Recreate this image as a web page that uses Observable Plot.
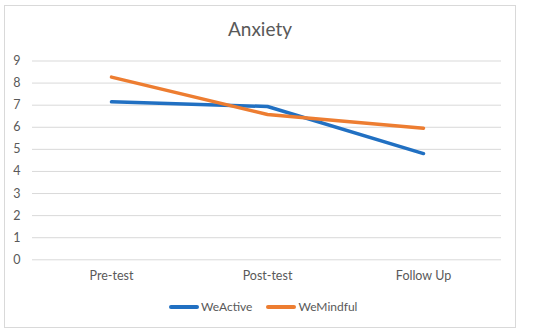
<!DOCTYPE html>
<html>
<head>
<meta charset="utf-8">
<script src="https://cdn.jsdelivr.net/npm/d3@7"></script>
<script src="https://cdn.jsdelivr.net/npm/@observablehq/plot@0.6"></script>
<style>
  html, body { margin: 0; padding: 0; background: #fff; }
  #wrap { position: relative; width: 550px; height: 335px; font-family: Lato, "Open Sans", sans-serif; }
  #frame { position: absolute; left: 4px; top: 5px; width: 512px; height: 323px; border: 1px solid #d9d9d9; box-sizing: border-box; }
  #title { position: absolute; left: 4px; width: 512px; top: 17px; text-align: center; font-size: 19px; color: #595959; }
  #chart { position: absolute; left: 0; top: 40px; }
  #legend { position: absolute; left: 169px; top: 299px; display: flex; gap: 14px; font-size: 12px; color: #595959; }
  .item { display: flex; align-items: center; }
  .sw { width: 30px; height: 4px; border-radius: 2px; margin-right: 2px; }
</style>
</head>
<body>
<div id="wrap">
  <div id="frame"></div>
  <div id="title">Anxiety</div>
  <div id="chart"></div>
  <div id="legend"></div>
</div>
<script>
const categories = ["Pre-test", "Post-test", "Follow Up"];
const seriesNames = ["WeActive", "WeMindful"];
const weActive = [7.15, 6.94, 4.81];
const weMindful = [8.27, 6.58, 5.96];
const yTicks = [0, 1, 2, 3, 4, 5, 6, 7, 8, 9];
const colors = ["#2170c2", "#ed7d31"];

const data = [];
categories.forEach((c, i) => data.push({cat: c, series: seriesNames[0], value: weActive[i]}));
categories.forEach((c, i) => data.push({cat: c, series: seriesNames[1], value: weMindful[i]}));

const plot = Plot.plot({
  width: 516,
  height: 250,
  marginLeft: 32,
  marginRight: 15,
  marginTop: 20.5,
  marginBottom: 30.7,
  style: {fontFamily: "Lato, 'Open Sans', sans-serif", fontSize: "12px", color: "#595959", background: "transparent"},
  x: {type: "point", domain: categories, padding: 0.5, label: null},
  y: {domain: [0, 9], label: null},
  color: {domain: seriesNames, range: colors},
  marks: [
    Plot.ruleY(yTicks, {stroke: "#d9d9d9", strokeWidth: 1}),
    Plot.axisY({ticks: yTicks, tickSize: 0, tickPadding: 12, label: null, fill: "#595959", fontSize: 12.5}),
    Plot.axisX({tickSize: 0, tickPadding: 11, label: null, fill: "#595959", fontSize: 12.5}),
    Plot.line(data, {x: "cat", y: "value", z: "series", stroke: "series", strokeWidth: 3.5, strokeLinecap: "round", strokeLinejoin: "round"})
  ]
});
document.getElementById("chart").appendChild(plot);

const legend = document.getElementById("legend");
seriesNames.forEach((s, i) => {
  const it = document.createElement("div");
  it.className = "item";
  const sw = document.createElement("div");
  sw.className = "sw";
  sw.style.background = colors[i];
  const t = document.createElement("span");
  t.textContent = s;
  it.appendChild(sw); it.appendChild(t);
  legend.appendChild(it);
});
</script>
</body>
</html>
